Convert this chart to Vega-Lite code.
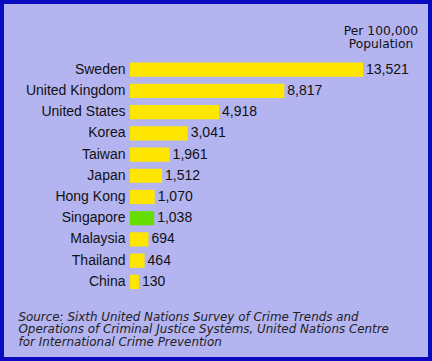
{
  "$schema": "https://vega.github.io/schema/vega-lite/v6.json",
  "width": 432,
  "height": 361,
  "autosize": "none",
  "padding": 0,
  "background": "#B4B4F0",
  "title": {
    "text": ["Per 100,000", "Population"],
    "orient": "top",
    "anchor": "end",
    "frame": "group",
    "align": "center",
    "dx": -51,
    "offset": -50,
    "font": "DejaVu Sans",
    "fontSize": 12.3,
    "fontWeight": "normal",
    "color": "#111111",
    "lineHeight": 13
  },
  "config": {
    "view": {"stroke": "#0A0AC0", "strokeWidth": 8, "fill": "#B4B4F0"},
    "font": "Liberation Sans"
  },
  "data": {
    "values": [
      {"country": "Sweden", "rate": 13521},
      {"country": "United Kingdom", "rate": 8817},
      {"country": "United States", "rate": 4918},
      {"country": "Korea", "rate": 3041},
      {"country": "Taiwan", "rate": 1961},
      {"country": "Japan", "rate": 1512},
      {"country": "Hong Kong", "rate": 1070},
      {"country": "Singapore", "rate": 1038},
      {"country": "Malaysia", "rate": 694},
      {"country": "Thailand", "rate": 464},
      {"country": "China", "rate": 130}
    ]
  },
  "encoding": {
    "y": {
      "field": "country",
      "type": "nominal",
      "sort": null,
      "scale": {"range": [59, 292.5], "paddingInner": 0.33, "paddingOuter": 0.165},
      "axis": {
        "title": null,
        "offset": -130,
        "domain": false,
        "ticks": false,
        "labelPadding": 5,
        "labelFontSize": 14,
        "labelColor": "#111111",
        "labelFont": "Liberation Sans"
      }
    },
    "x": {
      "field": "rate",
      "type": "quantitative",
      "scale": {"domain": [-406, 13521], "range": [130, 363], "nice": false, "zero": false},
      "axis": {
        "orient": "bottom",
        "grid": false,
        "domain": false,
        "ticks": false,
        "labels": false,
        "title": ["Source: Sixth United Nations Survey of Crime Trends and", "Operations of Criminal Justice Systems, United Nations Centre", "for International Crime Prevention"],
        "titleX": 18,
        "titleY": -41,
        "titleAlign": "left",
        "titleAnchor": null,
        "titleBaseline": "alphabetic",
        "titleFont": "DejaVu Sans",
        "titleFontSize": 11.9,
        "titleFontStyle": "italic",
        "titleFontWeight": "normal",
        "titleColor": "#222222",
        "titleLineHeight": 12.6
      }
    }
  },
  "layer": [
    {
      "mark": {"type": "bar"},
      "encoding": {
        "x2": {"datum": -406},
        "color": {
          "condition": {"test": "datum.country === 'Singapore'", "value": "#66DD00"},
          "value": "#FFE600"
        }
      }
    },
    {
      "mark": {"type": "text", "align": "left", "baseline": "middle", "dx": 3, "fontSize": 14, "color": "#111111"},
      "encoding": {
        "text": {"field": "rate", "type": "quantitative", "format": ",d"}
      }
    }
  ]
}
